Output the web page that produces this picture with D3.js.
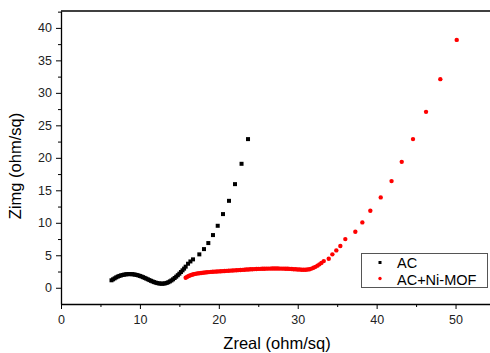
<!DOCTYPE html>
<html>
<head>
<meta charset="utf-8">
<script src="https://cdn.jsdelivr.net/npm/d3@7"></script>
<style>
  body { margin: 0; background: #fff; }
  svg { font-family: "Liberation Sans", Arial, sans-serif; }
</style>
</head>
<body>
<div id="chart"></div>
<script>
// AC series (Zreal, Zimg)
const acX = [6.4, 6.6, 6.8, 7.0, 7.2, 7.4, 7.6, 7.8, 8.0, 8.2, 8.4, 8.6, 8.8, 9.0, 9.2, 9.4, 9.6, 9.8,
  10.0, 10.2, 10.4, 10.6, 10.8, 11.0, 11.2, 11.4, 11.6, 11.8, 12.0, 12.2, 12.4, 12.6, 12.8, 13.0,
  13.2, 13.4, 13.6, 13.8, 14.0, 14.2, 14.4, 14.6, 14.8, 15.0, 15.2, 15.4, 15.6, 15.8, 16.1, 16.4,
  16.73, 17.53, 18.12, 18.67, 19.26, 19.86, 20.53, 21.29, 22.05, 22.88, 23.7];
const acY = [1.15, 1.3, 1.45, 1.6, 1.72, 1.82, 1.9, 1.97, 2.02, 2.06, 2.09, 2.1, 2.1, 2.09, 2.06, 2.02, 1.97, 1.9,
  1.82, 1.73, 1.63, 1.52, 1.41, 1.3, 1.18, 1.07, 0.97, 0.87, 0.79, 0.72, 0.67, 0.64, 0.63, 0.64,
  0.68, 0.75, 0.85, 0.98, 1.13, 1.3, 1.5, 1.71, 1.93, 2.17, 2.42, 2.68, 2.95, 3.25, 3.7, 4.05,
  4.37, 5.14, 5.95, 6.88, 8.11, 9.54, 11.34, 13.38, 15.95, 19.08, 22.88];

// AC+Ni-MOF series
const mofX = [15.8, 16.0, 16.2, 16.4, 16.6, 16.8, 17.0, 17.25, 17.5, 17.75, 18.0, 18.25, 18.5, 18.75,
  19.0, 19.25, 19.5, 19.75, 20.0, 20.25, 20.5, 20.75, 21.0, 21.25, 21.5, 21.75, 22.0, 22.25, 22.5,
  22.75, 23.0, 23.25, 23.5, 23.75, 24.0, 24.25, 24.5, 24.75, 25.0, 25.25, 25.5, 25.75, 26.0, 26.25,
  26.5, 26.75, 27.0, 27.25, 27.5, 27.75, 28.0, 28.25, 28.5, 28.75, 29.0, 29.25, 29.5, 29.75, 30.0,
  30.25, 30.5, 30.75, 31.0, 31.25, 31.5, 31.75, 32.0, 32.25, 32.5, 32.75, 33.0, 33.3,
  33.93, 34.39, 34.89, 35.4, 36.03, 37.3, 38.19, 39.2, 40.52, 41.89, 43.18, 44.61, 46.26, 48.07, 50.15];
const mofY = [1.55, 1.7, 1.82, 1.92, 2.0, 2.07, 2.13, 2.19, 2.24, 2.28, 2.32, 2.35, 2.38, 2.41,
  2.44, 2.46, 2.48, 2.5, 2.52, 2.54, 2.56, 2.58, 2.6, 2.62, 2.64, 2.66, 2.68, 2.7, 2.72,
  2.74, 2.76, 2.78, 2.8, 2.82, 2.84, 2.86, 2.87, 2.89, 2.9, 2.91, 2.92, 2.93, 2.94, 2.95,
  2.95, 2.96, 2.96, 2.96, 2.96, 2.95, 2.95, 2.94, 2.93, 2.92, 2.9, 2.88, 2.86, 2.84, 2.82,
  2.8, 2.78, 2.77, 2.77, 2.8, 2.86, 2.95, 3.07, 3.22, 3.4, 3.6, 3.83, 4.1,
  4.46, 5.14, 5.75, 6.42, 7.49, 8.62, 10.06, 11.85, 13.91, 16.42, 19.38, 22.88, 27.08, 32.11, 38.15];

const xTicks = [0, 10, 20, 30, 40, 50];
const xMinor = [5, 15, 25, 35, 45];
const yTicks = [0, 5, 10, 15, 20, 25, 30, 35, 40];
const yMinor = [2.5, 7.5, 12.5, 17.5, 22.5, 27.5, 32.5, 37.5, 42.5];

const width = 490;
const height = 353;
const margin = { top: 11, left: 61, bottom: 304, right: 495 };

const svg = d3.select("#chart")
  .append("svg")
  .attr("width", width)
  .attr("height", height);

const x = d3.scaleLinear().domain([0, 55]).range([margin.left, margin.right]);
const y = d3.scaleLinear().domain([-2.5, 42.6]).range([margin.bottom, margin.top]);

// frame top line
svg.append("line")
  .attr("x1", margin.left).attr("x2", width)
  .attr("y1", margin.top).attr("y2", margin.top)
  .attr("stroke", "#000").attr("stroke-width", 1.3);

// x axis
const gx = svg.append("g").attr("transform", `translate(0,${margin.bottom})`);
gx.call(d3.axisBottom(x).tickValues(xTicks).tickSize(5).tickSizeOuter(0).tickPadding(6.5));
gx.append("g").call(d3.axisBottom(x).tickValues(xMinor).tickSize(3).tickFormat("").tickSizeOuter(0))
  .select(".domain").remove();

// y axis
const gy = svg.append("g").attr("transform", `translate(${margin.left},0)`);
gy.call(d3.axisLeft(y).tickValues(yTicks).tickSize(5).tickSizeOuter(0).tickPadding(4));
gy.append("g").call(d3.axisLeft(y).tickValues(yMinor).tickSize(3).tickFormat("").tickSizeOuter(0))
  .select(".domain").remove();

svg.selectAll(".domain").attr("stroke-width", 1.3);
svg.selectAll(".tick line").attr("stroke-width", 1);
svg.selectAll(".tick text").attr("font-size", 12.5).attr("fill", "#222")
  .attr("font-family", "Liberation Sans, Arial, sans-serif");

// axis labels
svg.append("text")
  .attr("x", 277).attr("y", 349)
  .attr("text-anchor", "middle")
  .attr("font-size", 16.5)
  .text("Zreal (ohm/sq)");

svg.append("text")
  .attr("transform", `translate(21,166) rotate(-90)`)
  .attr("text-anchor", "middle")
  .attr("font-size", 16.5)
  .text("Zimg (ohm/sq)");

// data
const ac = acX.map((v, i) => ({ x: v, y: acY[i] }));
const mof = mofX.map((v, i) => ({ x: v, y: mofY[i] }));

svg.append("g").selectAll("rect")
  .data(ac)
  .join("rect")
  .attr("x", d => x(d.x) - 2)
  .attr("y", d => y(d.y) - 2)
  .attr("width", 4)
  .attr("height", 4)
  .attr("fill", "#000");

svg.append("g").selectAll("circle")
  .data(mof)
  .join("circle")
  .attr("cx", d => x(d.x))
  .attr("cy", d => y(d.y))
  .attr("r", 2.2)
  .attr("fill", "#f00");

// legend
const lg = svg.append("g");
lg.append("rect")
  .attr("x", 361.5).attr("y", 253.5)
  .attr("width", 126).attr("height", 34)
  .attr("fill", "#fff").attr("stroke", "#555").attr("stroke-width", 1);
lg.append("rect").attr("x", 378.5).attr("y", 261).attr("width", 3).attr("height", 3).attr("fill", "#000");
lg.append("circle").attr("cx", 380).attr("cy", 278.5).attr("r", 1.7).attr("fill", "#f00");
lg.append("text").attr("x", 397).attr("y", 267.5).attr("font-size", 14.5).text("AC");
lg.append("text").attr("x", 397).attr("y", 284.5).attr("font-size", 14.5).text("AC+Ni-MOF");
</script>
</body>
</html>
